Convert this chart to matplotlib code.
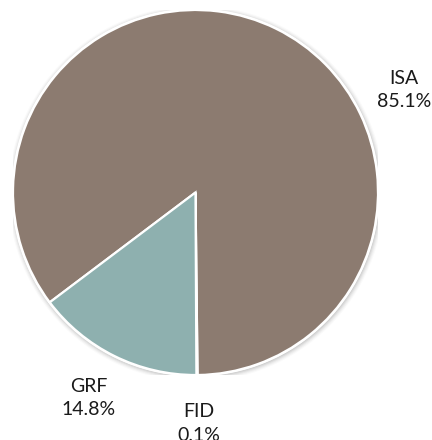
import matplotlib
matplotlib.use("Agg")
import matplotlib.pyplot as plt
from matplotlib.patches import Circle

labels = ["ISA", "FID", "GRF"]
values = [85.1, 0.1, 14.8]
colors = ["#8C7B70", "#8C7B70", "#8EB0AF"]
label_pos = {"ISA": (1.142, 0.562), "FID": (0.019, -1.265), "GRF": (-0.586, -1.126)}

plt.rcParams['font.family'] = ['Lato', 'DejaVu Sans']

W, H = 432, 440
fig = plt.figure(figsize=(W / 100, H / 100), dpi=100)
cx, cy, r = 195.5, 247.5, 182.5
ax = fig.add_axes([(cx - r) / W, (cy - r) / H, 2 * r / W, 2 * r / H])
ax.set_xlim(-1, 1)
ax.set_ylim(-1, 1)
ax.set_aspect('equal')
ax.axis('off')

# soft shadow
for i, a in enumerate([0.05, 0.05, 0.04, 0.03, 0.02]):
    ax.add_patch(Circle((0.004, -0.006), 1.0 + 0.006 * (i + 1), color='#000000', alpha=a, lw=0, zorder=0))
ax.add_patch(Circle((0, 0), 1.008, color='white', lw=0, zorder=0.5))

ax.pie(values, colors=colors, startangle=217, counterclock=False, radius=1.0,
       wedgeprops=dict(edgecolor='white', linewidth=1.6), normalize=True)
ax.set_xlim(-1, 1)
ax.set_ylim(-1, 1)

for lab, v in zip(labels, values):
    x, y = label_pos[lab]
    ax.text(x, y, f"{lab}\n{v:.1f}%", ha='center', va='center', fontsize=14,
            color='#1a1a1a', linespacing=1.48, clip_on=False)

fig.savefig("out.png", dpi=100)
